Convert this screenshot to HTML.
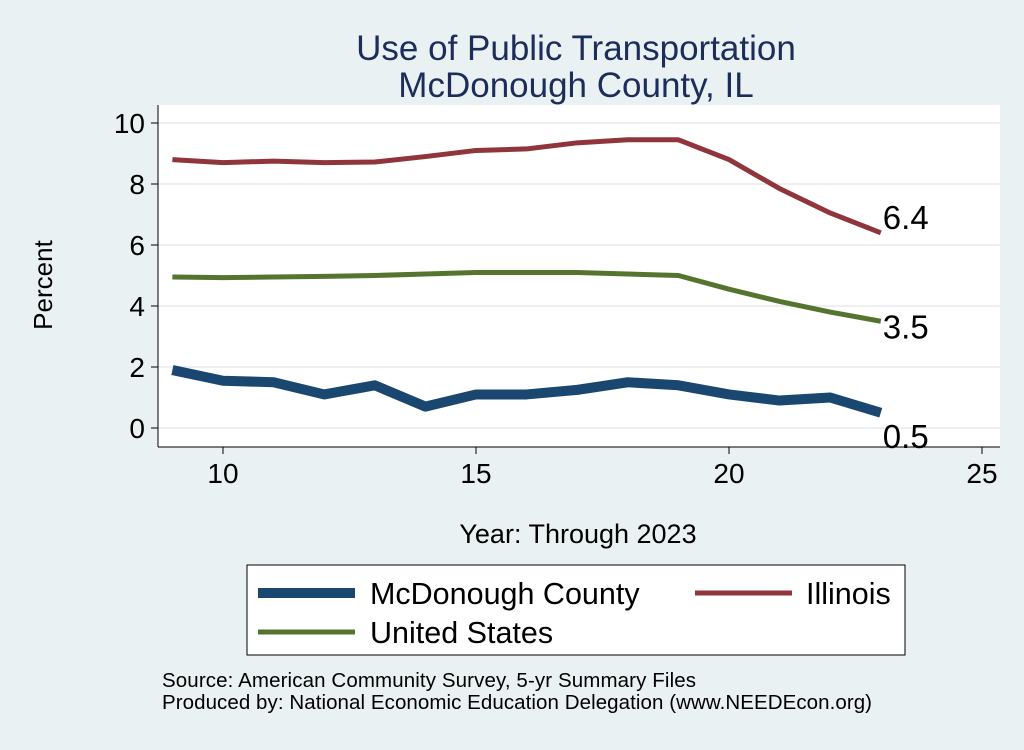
<!DOCTYPE html>
<html><head><meta charset="utf-8"><style>
body{margin:0;background:#eaf1f3;font-family:"Liberation Sans",sans-serif}
</style></head><body>
<svg width="1024" height="745" xmlns="http://www.w3.org/2000/svg">
<rect x="0" y="0" width="1024" height="745" fill="#eaf1f3"/>
<text x="576" y="60" font-size="35" text-anchor="middle" fill="#1c2d5a">Use of Public Transportation</text>
<text x="576" y="97" font-size="35" text-anchor="middle" fill="#1c2d5a">McDonough County, IL</text>
<rect x="158" y="105" width="842" height="342" fill="#fff"/>
<g id="grid"></g><g id="axes"></g><g id="series"></g>
<text x="52" y="285" font-size="26" text-anchor="middle" transform="rotate(-90 52 285)">Percent</text>
<text x="578" y="543" font-size="27" text-anchor="middle">Year: Through 2023</text>
<g>
<rect x="247" y="565" width="658" height="90" fill="#fff" stroke="#000" stroke-width="1"/>
<line x1="258" y1="593" x2="355" y2="593" stroke="#1a476f" stroke-width="10"/>
<text x="370" y="604" font-size="30.5">McDonough County</text>
<line x1="695" y1="593" x2="792" y2="593" stroke="#90353b" stroke-width="5"/>
<text x="806" y="604" font-size="30.5">Illinois</text>
<line x1="258" y1="632" x2="355" y2="632" stroke="#55752f" stroke-width="5"/>
<text x="370" y="643" font-size="30.5">United States</text>
</g>
<text x="162" y="687" font-size="20.5" textLength="534">Source: American Community Survey, 5-yr Summary Files</text>
<text x="162" y="709" font-size="20.5" textLength="710">Produced by: National Economic Education Delegation (www.NEEDEcon.org)</text>
</svg>
<script>
const years=[9,10,11,12,13,14,15,16,17,18,19,20,21,22,23];
const mcdonough=[1.9,1.55,1.5,1.1,1.4,0.7,1.1,1.1,1.25,1.5,1.4,1.1,0.9,1.0,0.5];
const illinois=[8.8,8.7,8.75,8.7,8.72,8.9,9.1,9.15,9.35,9.45,9.45,8.8,7.85,7.05,6.4];
const us=[4.95,4.93,4.95,4.97,5.0,5.05,5.1,5.1,5.1,5.05,5.0,4.55,4.15,3.8,3.5];
const xTicks=[10,15,20,25];
const yTicks=[0,2,4,6,8,10];
const NS="http://www.w3.org/2000/svg";
const xs=v=>223+(v-10)*50.6;
const ys=v=>428-v*30.5;
function mk(tag,attrs,parent){const e=document.createElementNS(NS,tag);for(const k in attrs)e.setAttribute(k,attrs[k]);parent.appendChild(e);return e;}
const grid=document.getElementById('grid'),axes=document.getElementById('axes'),ser=document.getElementById('series');
mk('line',{x1:158,y1:105,x2:158,y2:447,stroke:'#000','stroke-width':1},axes);
mk('line',{x1:158,y1:447,x2:1000,y2:447,stroke:'#000','stroke-width':1},axes);
yTicks.forEach(t=>{
 const g=mk('line',{x1:158,y1:ys(t),x2:1000,y2:ys(t),stroke:'#e6ecef','stroke-width':1.5},grid);
 
 
 mk('line',{x1:151,y1:ys(t),x2:158,y2:ys(t),stroke:'#000'},axes);
 const tx=mk('text',{x:145,y:ys(t)+10,'font-size':28,'text-anchor':'end'},axes);tx.textContent=t;
 
 
});
xTicks.forEach(t=>{
 mk('line',{x1:xs(t),y1:447,x2:xs(t),y2:454,stroke:'#000'},axes);
 const tx=mk('text',{x:xs(t),y:483,'font-size':28,'text-anchor':'middle'},axes);tx.textContent=t;
 
 
});
function line(vals,color,w,name){
 const p=mk('polyline',{points:years.map((y,i)=>xs(y)+','+ys(vals[i])).join(' '),fill:'none',stroke:color,'stroke-width':w,'stroke-linejoin':'round'},ser);
 
 
}
line(illinois,'#90353b',5,'line-illinois');
line(us,'#55752f',5,'line-united-states');
line(mcdonough,'#1a476f',10,'line-mcdonough-county');
const n=years.length-1;
[[illinois,-4,'label-illinois-last'],[us,17,'label-us-last'],[mcdonough,35,'label-mcdonough-last']].forEach(([v,dy,nm])=>{
 const t=mk('text',{x:xs(years[n])+2,y:ys(v[n])+dy,'font-size':33},ser);
 t.textContent=v[n].toFixed(1);
 
 
});
</script>
</body></html>
